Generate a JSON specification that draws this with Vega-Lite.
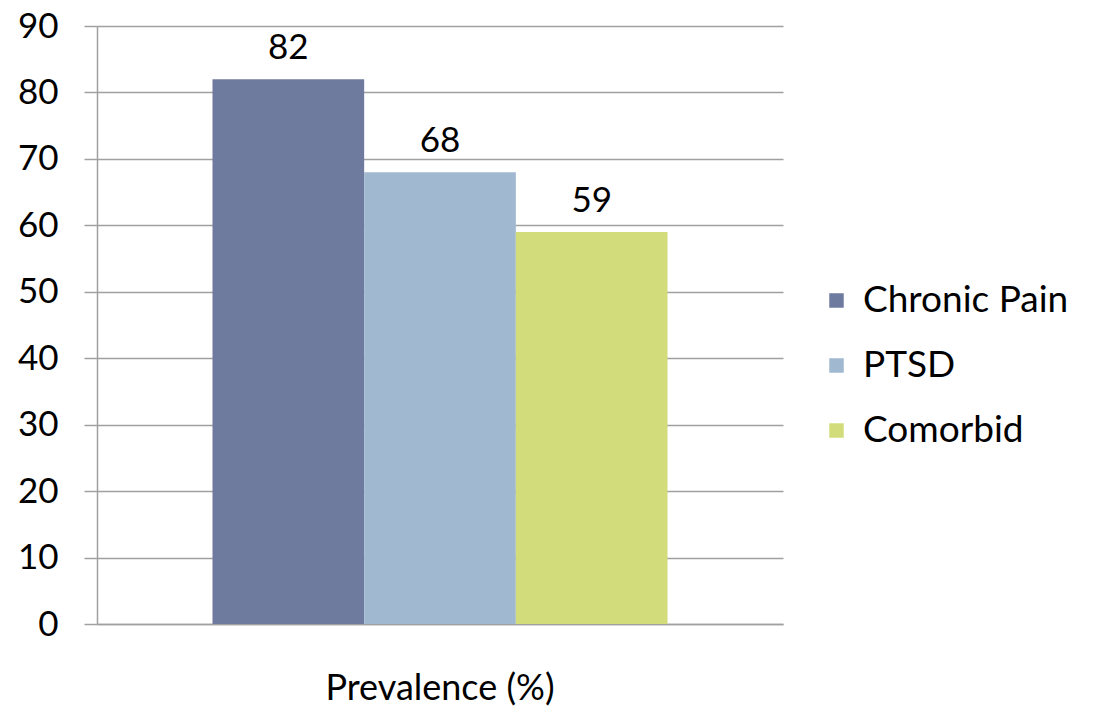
{
  "$schema": "https://vega.github.io/schema/vega-lite/v6.json",
  "width": 686,
  "height": 598,
  "autosize": {"type": "none"},
  "padding": {"left": 97, "top": 26, "right": 312, "bottom": 88},
  "background": "white",
  "data": {
    "values": [
      {"group": "Prevalence (%)", "series": "Chronic Pain", "value": 82},
      {"group": "Prevalence (%)", "series": "PTSD", "value": 68},
      {"group": "Prevalence (%)", "series": "Comorbid", "value": 59}
    ]
  },
  "encoding": {
    "x": {
      "field": "group",
      "type": "nominal",
      "title": null,
      "scale": {"paddingInner": 0, "paddingOuter": 0.2538},
      "axis": {
        "labelAngle": 0,
        "labelFont": "Lato",
        "labelFontSize": 36,
        "labelColor": "#000000",
        "labelPadding": 47,
        "labelLimit": 600,
        "ticks": false,
        "domainColor": "#a0a0a0",
        "domainWidth": 1.5
      }
    },
    "xOffset": {
      "field": "series",
      "type": "nominal",
      "scale": {"domain": ["Chronic Pain", "PTSD", "Comorbid"], "paddingInner": 0, "paddingOuter": 0}
    },
    "y": {
      "field": "value",
      "type": "quantitative",
      "title": null,
      "scale": {"domain": [0, 90], "nice": false},
      "axis": {
        "values": [0, 10, 20, 30, 40, 50, 60, 70, 80, 90],
        "labelFont": "Lato",
        "labelFontSize": 35,
        "labelColor": "#000000",
        "labelPadding": 26,
        "tickSize": 13,
        "tickColor": "#a0a0a0",
        "tickWidth": 1.5,
        "domainColor": "#a0a0a0",
        "domainWidth": 1.5,
        "gridColor": "#a0a0a0",
        "gridWidth": 1.5,
        "grid": true
      }
    }
  },
  "layer": [
    {
      "mark": {"type": "bar"},
      "encoding": {
        "color": {
          "field": "series",
          "type": "nominal",
          "title": null,
          "scale": {
            "domain": ["Chronic Pain", "PTSD", "Comorbid"],
            "range": ["#6f7a9f", "#a0b9d1", "#d3dc7b"]
          },
          "legend": {
            "orient": "none",
            "legendX": 721,
            "legendY": 256,
            "symbolType": "square",
            "symbolSize": 210,
            "symbolStrokeWidth": 0,
            "labelFont": "Lato",
            "labelFontSize": 37,
            "labelColor": "#000000",
            "labelOffset": 8,
            "rowPadding": 27,
            "labelLimit": 400
          }
        }
      }
    },
    {
      "mark": {"type": "text", "baseline": "bottom", "dy": -13, "font": "Lato", "fontSize": 35, "color": "#000000"},
      "encoding": {"text": {"field": "value", "type": "quantitative"}}
    }
  ],
  "config": {"view": {"stroke": null}}
}
